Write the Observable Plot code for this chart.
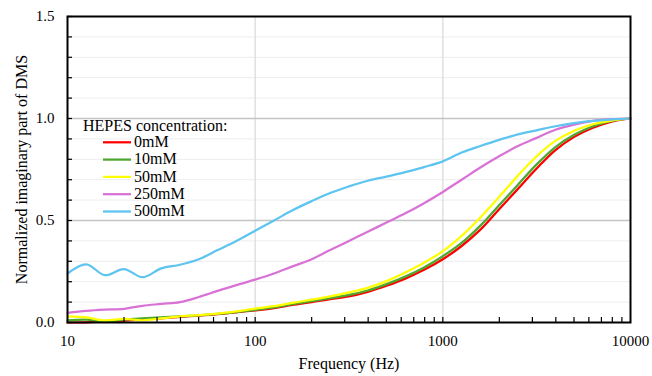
<!DOCTYPE html>
<html>
<head>
<meta charset="utf-8">
<script src="https://cdn.jsdelivr.net/npm/d3@7"></script>
<script src="https://cdn.jsdelivr.net/npm/@observablehq/plot@0.6"></script>
<style>
  html, body { margin: 0; padding: 0; background: #fff; }
  #chart { width: 652px; height: 376px; }
</style>
</head>
<body>
<div id="chart"></div>
<script>
// ---- data ----
const frequency = [10, 12.6, 15.8, 20, 25.1, 31.6, 39.8, 50.1, 63.1, 79.4,
  100, 126, 158, 200, 251, 316, 398, 501, 631, 794,
  1000, 1259, 1585, 1995, 2512, 3162, 3981, 5012, 6310, 7943, 10000];

const c0mM = [0.0, 0.001, 0.004, 0.009, 0.015, 0.02, 0.027, 0.034, 0.041, 0.05,
  0.059, 0.07, 0.086, 0.1, 0.115, 0.128, 0.15, 0.18, 0.215, 0.258,
  0.31, 0.375, 0.455, 0.555, 0.655, 0.755, 0.845, 0.91, 0.955, 0.985, 1.0];

const c10mM = [0.01, 0.014, 0.004, 0.014, 0.02, 0.025, 0.03, 0.035, 0.042, 0.051,
  0.062, 0.074, 0.09, 0.105, 0.12, 0.135, 0.157, 0.188, 0.225, 0.27,
  0.325, 0.39, 0.475, 0.575, 0.675, 0.775, 0.86, 0.92, 0.962, 0.988, 1.0];

const c50mM = [0.03, 0.025, 0.01, 0.018, 0.011, 0.02, 0.03, 0.036, 0.044, 0.054,
  0.068, 0.08, 0.096, 0.112, 0.128, 0.148, 0.17, 0.203, 0.245, 0.293,
  0.35, 0.425, 0.515, 0.615, 0.72, 0.815, 0.89, 0.94, 0.972, 0.99, 1.0];

const c250mM = [0.047, 0.057, 0.063, 0.067, 0.082, 0.091, 0.1, 0.125, 0.155, 0.183,
  0.21, 0.24, 0.275, 0.31, 0.355, 0.40, 0.445, 0.49, 0.535, 0.585,
  0.64, 0.70, 0.76, 0.815, 0.865, 0.905, 0.945, 0.97, 0.988, 0.997, 1.0];

const c500mM = [0.24, 0.285, 0.232, 0.262, 0.222, 0.265, 0.283, 0.31, 0.355, 0.40,
  0.45, 0.50, 0.55, 0.595, 0.635, 0.667, 0.695, 0.715, 0.737, 0.762,
  0.79, 0.833, 0.865, 0.895, 0.922, 0.942, 0.962, 0.977, 0.988, 0.996, 1.0];

const seriesNames = ["0mM", "10mM", "50mM", "250mM", "500mM"];
const seriesValues = [c0mM, c10mM, c50mM, c250mM, c500mM];
const seriesColors = ["#ff0000", "#4ea72e", "#ffff00", "#d872d6", "#5ec4f0"];

const xTickValues = [10, 100, 1000, 10000];
const xMinorTicks = [20, 30, 40, 50, 60, 70, 80, 90, 100,
  200, 300, 400, 500, 600, 700, 800, 900, 1000,
  2000, 3000, 4000, 5000, 6000, 7000, 8000, 9000];
const xGridValues = [100, 1000];
const yTickValues = [0, 0.5, 1.0, 1.5];
const yMinorValues = [0, 0.1, 0.2, 0.3, 0.4, 0.5, 0.6, 0.7, 0.8, 0.9, 1.0, 1.1, 1.2, 1.3, 1.4, 1.5];
const yMajorGrid = [0.5, 1.0];

const xTitle = "Frequency (Hz)";
const yTitle = "Normalized imaginary part of DMS";
const legendTitle = "HEPES concentration:";

// ---- layout ----
const W = 652, H = 376;
const mL = 67, mR = 22, mT = 16, mB = 54;
const innerW = W - mL - mR;
const innerH = H - mT - mB;
const font = "Liberation Serif";

const rows = [];
seriesNames.forEach((name, s) => {
  frequency.forEach((f, i) => rows.push({f, v: seriesValues[s][i], s: name}));
});

const chart = Plot.plot({
  width: W, height: H,
  marginLeft: mL, marginRight: mR, marginTop: mT, marginBottom: mB,
  style: {fontFamily: font, fontSize: "15px", color: "#000", background: "#fff", overflow: "visible"},
  x: {type: "log", domain: [10, 10000]},
  y: {domain: [0, 1.5]},
  color: {domain: seriesNames, range: seriesColors},
  marks: [
    Plot.ruleY(yMinorValues, {stroke: "#ededed", strokeWidth: 1}),
    Plot.ruleX(xGridValues, {stroke: "#dedede", strokeWidth: 1.4}),
    Plot.ruleY(yMajorGrid, {stroke: "#c4c4c4", strokeWidth: 1.6}),
    Plot.line(rows, {x: "f", y: "v", z: "s", stroke: "s", strokeWidth: 2.25, curve: "catmull-rom"}),
    Plot.tickX(xMinorTicks, {x: d => d, insetTop: innerH - 5, stroke: "#000", strokeWidth: 1.2}),
    Plot.tickY(yMinorValues, {y: d => d, insetRight: innerW - 5, stroke: "#000", strokeWidth: 1.2}),
    Plot.axisX(xTickValues, {tickSize: 0, tickPadding: 13, tickFormat: d => String(d), label: null, fontSize: 15}),
    Plot.axisY(yTickValues, {tickSize: 0, tickPadding: 13, tickFormat: d => d.toFixed(1), label: null, fontSize: 15}),
    Plot.frame({stroke: "#000", strokeWidth: 2}),
    Plot.text([xTitle], {text: d => d, frameAnchor: "bottom", dy: 41, fontSize: 16, lineAnchor: "middle"}),
    Plot.text([yTitle], {text: d => d, frameAnchor: "left", dx: -46, rotate: -90, fontSize: 16, lineAnchor: "middle", textAnchor: "middle"})
  ]
});

// ---- legend inside the plot area ----
const svg = d3.select(chart);
const lg = svg.append("g")
  .attr("font-family", font).attr("font-size", 16)
  .attr("fill", "#000").attr("text-anchor", "start");
lg.append("text").attr("x", 83).attr("y", 131).text(legendTitle);
seriesNames.forEach((name, i) => {
  const base = 147 + i * 17.3;
  lg.append("line")
    .attr("x1", 103).attr("x2", 131)
    .attr("y1", base - 4.7).attr("y2", base - 4.7)
    .attr("stroke", seriesColors[i]).attr("stroke-width", 2.25);
  lg.append("text").attr("x", 134).attr("y", base).text(name);
});

document.getElementById("chart").appendChild(chart);
</script>
</body>
</html>
